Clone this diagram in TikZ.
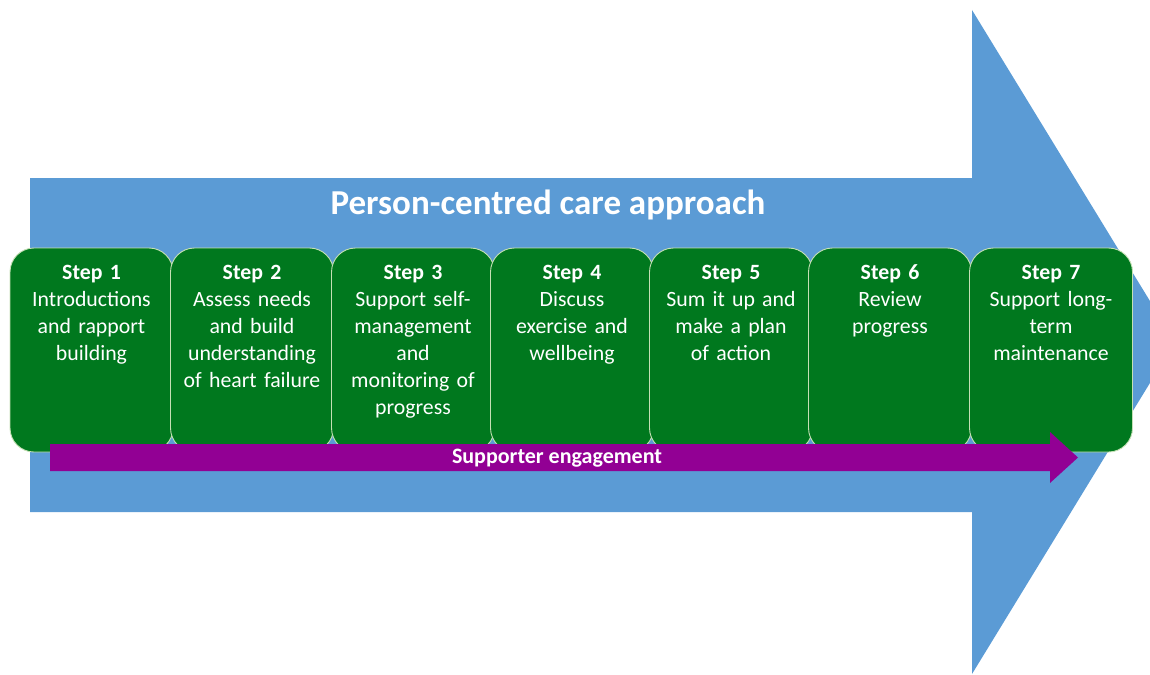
\documentclass[tikz,border=0pt]{standalone}
\usepackage{fontspec}
\setmainfont{Carlito}
\definecolor{arrowblue}{HTML}{5B9BD5}
\definecolor{stepgreen}{HTML}{00781E}
\definecolor{edgegreen}{HTML}{C5E0B4}
\definecolor{engpurple}{HTML}{920094}
\begin{document}
\begin{tikzpicture}[x=1pt,y=-1pt,
  stepbox/.style={draw=edgegreen, line width=0.9pt, fill=stepgreen, rounded corners=24pt,
    minimum width=163pt, minimum height=204pt, inner sep=0pt},
  steptext/.style={text=white, anchor=north, inner sep=0pt, align=center, text width=162pt,
    font=\fontsize{21.8}{27}\selectfont},
  title/.style={text=white, font=\fontsize{35}{40}\selectfont\bfseries},
  englabel/.style={text=white, font=\fontsize{22}{26}\selectfont\bfseries}]
\useasboundingbox (0,0) rectangle (1150,674);
\clip (0,0) rectangle (1150,674);
% big blue arrow
\fill[arrowblue] (30,178) -- (972,178) -- (972,10) -- (1175,342) -- (972,674) -- (972,512) -- (30,512) -- cycle;
\node[title] (ttl) at (548,205) {Person-centred care approach};
% step boxes
\node[stepbox] (s1) at (91.5,350) {};
\node[stepbox] (s2) at (252,350) {};
\node[stepbox] (s3) at (413,350) {};
\node[stepbox] (s4) at (572,350) {};
\node[stepbox] (s5) at (731,350) {};
\node[stepbox] (s6) at (890,350) {};
\node[stepbox] (s7) at (1051,350) {};
\node[steptext] (t1) at ([yshift=-17pt]s1.north) {\textbf{Step 1}\\Introductions\\and rapport\\building};
\node[steptext] (t2) at ([yshift=-17pt]s2.north) {\textbf{Step 2}\\Assess needs\\and build\\understanding\\of heart failure};
\node[steptext] (t3) at ([yshift=-17pt]s3.north) {\textbf{Step 3}\\Support self-\\management\\and\\monitoring of\\progress};
\node[steptext] (t4) at ([yshift=-17pt]s4.north) {\textbf{Step 4}\\Discuss\\exercise and\\wellbeing};
\node[steptext] (t5) at ([yshift=-17pt]s5.north) {\textbf{Step 5}\\Sum it up and\\make a plan\\of action};
\node[steptext] (t6) at ([yshift=-17pt]s6.north) {\textbf{Step 6}\\Review\\progress};
\node[steptext] (t7) at ([yshift=-17pt]s7.north) {\textbf{Step 7}\\Support long-\\term\\maintenance};
% purple arrow
\fill[engpurple] (50,444) -- (1050,444) -- (1050,432) -- (1078,457.5) -- (1050,483) -- (1050,471) -- (50,471) -- cycle;
\node[englabel] (eng) at (557,458) {Supporter engagement};
\end{tikzpicture}
\end{document}
